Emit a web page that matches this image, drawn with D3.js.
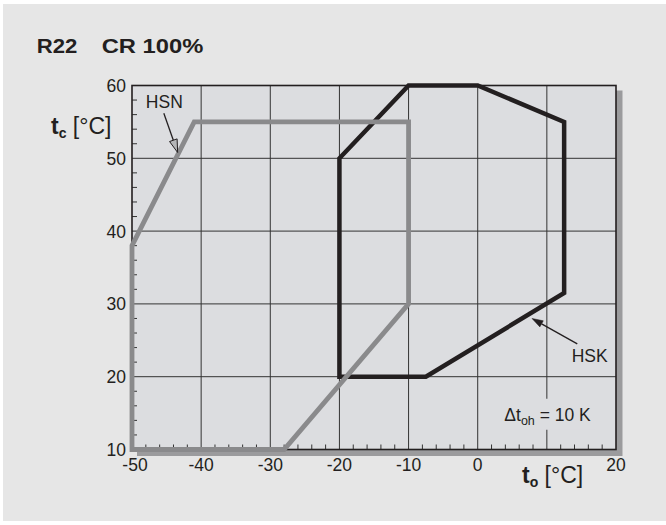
<!DOCTYPE html>
<html><head><meta charset="utf-8">
<script src="https://cdn.jsdelivr.net/npm/d3@7"></script>
<style>body{margin:0;background:#fff} text{font-family:"Liberation Sans",Arial,Helvetica,sans-serif;fill:#231f20}</style>
</head><body><svg id="c" width="666" height="525"></svg>
<script>
// ---- data ----
const titleParts = ["R22", "CR 100%"];
const xTickLabels = [-50, -40, -30, -20, -10, 0, 20];
const yTickLabels = [10, 20, 30, 40, 50, 60];
const xGrid = [-40, -30, -20, -10, 0, 10];
const yGrid = [20, 30, 40, 50];
const minorStep = 2;
const hsnX = [-50, -50, -41, -10, -10, -28, -50];
const hsnY = [10, 38, 55, 55, 30, 10, 10];
const hskX = [-20, -20, -10, 0, 12.5, 12.5, -7.5, -20];
const hskY = [20, 50, 60, 60, 55, 31.5, 20, 20];
const hsnLabel = {text: "HSN", x: -48.0, y: 56.95, ax: -45.4, ay: 56.2, tx: -43.4, ty: 50.8};
const hskLabel = {text: "HSK", x: 13.6, y: 22.06, ax: 14.4, ay: 24.5, tx: 7.85, ty: 28.0};
const dtLabel = {x: 3.85, y: 13.95};

// ---- chart ----
const svg = d3.select("#c");
const x = d3.scaleLinear().domain([-50, 20]).range([132, 616]);
const y = d3.scaleLinear().domain([10, 60]).range([449.5, 85.5]);
const X0 = x(-50), X1 = x(20), Y0 = y(10), Y1 = y(60);

svg.append("rect").attr("x", 3).attr("y", 4).attr("width", 663).attr("height", 517).attr("fill", "#e6e6e6");
svg.append("text").attr("x", 36.7).attr("y", 52.8).attr("font-size", 20).attr("font-weight", "bold")
  .attr("textLength", 40.6).attr("lengthAdjust", "spacingAndGlyphs").text(titleParts[0]);
svg.append("text").attr("x", 101.7).attr("y", 52.8).attr("font-size", 20).attr("font-weight", "bold")
  .attr("textLength", 101.6).attr("lengthAdjust", "spacingAndGlyphs").text(titleParts[1]);

// shadow
svg.append("rect").attr("x", X0 + 5).attr("y", Y1 + 5).attr("width", X1 - X0 + 1.5).attr("height", Y0 - Y1 + 1.5)
  .attr("fill", "#9b9b9d");
svg.append("rect").attr("x", X0).attr("y", Y1).attr("width", X1 - X0).attr("height", Y0 - Y1).attr("fill", "#dcdde0");

const g = svg.append("g");
g.selectAll(".vg").data(xGrid).join("line").attr("x1", d => x(d)).attr("x2", d => x(d))
  .attr("y1", Y0).attr("y2", Y1).attr("stroke", "#333").attr("stroke-width", 1);
g.selectAll(".hg").data(yGrid).join("line").attr("y1", d => y(d)).attr("y2", d => y(d))
  .attr("x1", X0).attr("x2", X1).attr("stroke", "#333").attr("stroke-width", 1);

const xMinor = d3.range(-50, 20 + 0.001, minorStep).filter(v => v % 10 !== 0);
const yMinor = d3.range(10, 60 + 0.001, minorStep).filter(v => v % 10 !== 0);
g.selectAll(".xm").data(xMinor).join("line").attr("x1", d => x(d)).attr("x2", d => x(d))
  .attr("y1", Y0).attr("y2", Y0 - 5).attr("stroke", "#333").attr("stroke-width", 1);
g.selectAll(".ym").data(yMinor).join("line").attr("y1", d => y(d)).attr("y2", d => y(d))
  .attr("x1", X0).attr("x2", X0 + 5).attr("stroke", "#333").attr("stroke-width", 1);

svg.append("rect").attr("x", X0).attr("y", Y1).attr("width", X1 - X0).attr("height", Y0 - Y1)
  .attr("fill", "none").attr("stroke", "#231f20").attr("stroke-width", 1.6);

// Δt label with background mask
const dt = svg.append("text").attr("x", x(dtLabel.x)).attr("y", y(dtLabel.y)).attr("font-size", 17.5);
dt.append("tspan").text("Δt");
dt.append("tspan").attr("font-size", 12.5).attr("dy", 4).text("oh");
dt.append("tspan").attr("dy", -4).text(" = 10 K");
const bb = dt.node().getBBox();
svg.insert("rect", "text:last-of-type").attr("x", bb.x - 3).attr("y", y(dtLabel.y) - 22)
  .attr("width", bb.width + 6).attr("height", 31).attr("fill", "#dcdde0");

const line = d3.line().x(d => x(d[0])).y(d => y(d[1]));
svg.append("path").datum(hskX.map((v, i) => [v, hskY[i]])).attr("d", d => line(d) + "Z")
  .attr("fill", "none").attr("stroke", "#231f20").attr("stroke-width", 4.5).attr("stroke-linejoin", "miter");
svg.append("path").datum(hsnX.map((v, i) => [v, hsnY[i]])).attr("d", d => line(d) + "Z")
  .attr("fill", "none").attr("stroke", "#8a8a8c").attr("stroke-width", 4.8).attr("stroke-linejoin", "miter");

// tick labels
svg.selectAll(".xl").data(xTickLabels).join("text").attr("x", d => x(d) + (d === -50 ? 3 : 0)).attr("y", 470.5)
  .attr("text-anchor", "middle").attr("font-size", 17.5).text(d => d);
svg.selectAll(".yl").data(yTickLabels).join("text").attr("x", 126).attr("y", d => y(d) + 6.5)
  .attr("text-anchor", "end").attr("font-size", 17.5).text(d => d);

// axis titles
const yt = svg.append("text").attr("x", 51).attr("y", 134).attr("font-size", 23);
yt.append("tspan").attr("font-weight", "bold").text("t");
yt.append("tspan").attr("font-size", 14).attr("font-weight", "bold").attr("dy", 4).text("c");
yt.append("tspan").attr("dy", -4).text(" [°C]");
const xt = svg.append("text").attr("x", 522).attr("y", 482.5).attr("font-size", 23);
xt.append("tspan").attr("font-weight", "bold").text("t");
xt.append("tspan").attr("font-size", 14).attr("font-weight", "bold").attr("dy", 4).text("o");
xt.append("tspan").attr("dy", -4).text(" [°C]");

// annotations
function arrow(a, open) {
  const x1 = x(a.ax), y1 = y(a.ay), x2 = x(a.tx), y2 = y(a.ty);
  const ang = Math.atan2(y2 - y1, x2 - x1), L = open ? 13 : 11, W = open ? 4 : 3.5;
  const bx = x2 - L * Math.cos(ang), by = y2 - L * Math.sin(ang);
  const px = -Math.sin(ang) * W, py = Math.cos(ang) * W;
  svg.append("line").attr("x1", x1).attr("y1", y1).attr("x2", bx).attr("y2", by)
    .attr("stroke", "#231f20").attr("stroke-width", 1.3);
  svg.append("path").attr("d", `M${x2},${y2}L${bx + px},${by + py}L${bx - px},${by - py}Z`)
    .attr("fill", open ? "#b5b6b8" : "#231f20").attr("stroke", "#231f20").attr("stroke-width", open ? 1 : 0.5);
  svg.append("text").attr("x", x(a.x)).attr("y", y(a.y)).attr("font-size", 17.5).text(a.text);
}
arrow(hsnLabel, true);
arrow(hskLabel, false);
</script></body></html>
